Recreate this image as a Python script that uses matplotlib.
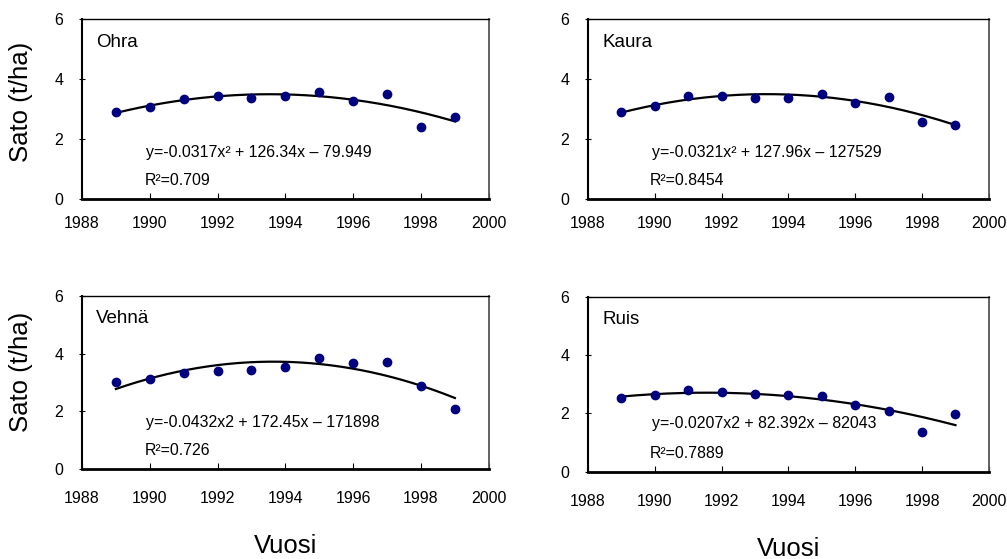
import numpy as np
import matplotlib.pyplot as plt

plt.rcParams['font.family'] = ['Liberation Sans', 'DejaVu Sans']

# Years and yields (t/ha)
years = [1989, 1990, 1991, 1992, 1993, 1994, 1995, 1996, 1997, 1998, 1999]
ohra = [2.91, 3.07, 3.33, 3.43, 3.36, 3.43, 3.56, 3.28, 3.49, 2.41, 2.74]
kaura = [2.89, 3.09, 3.44, 3.43, 3.37, 3.37, 3.50, 3.21, 3.39, 2.58, 2.47]
vehna = [3.02, 3.13, 3.33, 3.40, 3.45, 3.55, 3.84, 3.67, 3.73, 2.90, 2.09]
ruis = [2.51, 2.61, 2.79, 2.73, 2.67, 2.62, 2.58, 2.28, 2.08, 1.37, 1.97]

names = ['Ohra', 'Kaura', 'Vehnä', 'Ruis']
equations = ['y=-0.0317x² + 126.34x – 79.949',
             'y=-0.0321x² + 127.96x – 127529',
             'y=-0.0432x2 + 172.45x – 171898',
             'y=-0.0207x2 + 82.392x – 82043']
r2_texts = ['R²=0.709', 'R²=0.8454', 'R²=0.726', 'R²=0.7889']
series = [ohra, kaura, vehna, ruis]

fig = plt.figure(figsize=(10.07, 5.59), dpi=100)
positions = [[0.0814, 0.644, 0.404, 0.322],
             [0.584, 0.644, 0.398, 0.322],
             [0.0814, 0.161, 0.404, 0.309],
             [0.584, 0.1565, 0.398, 0.313]]

x = np.array(years, dtype=float)
for i, (pos, name, y) in enumerate(zip(positions, names, series)):
    ax = fig.add_axes(pos)
    y = np.array(y)
    # 2nd order trend line like in the original
    coef = np.polyfit(x - 1994, y, 2)
    xs = np.linspace(1989, 1999, 200)
    ax.plot(xs, np.polyval(coef, xs - 1994), color='black', lw=1.6, zorder=2)
    ax.scatter(x, y, s=36, color='#000080', zorder=3)

    ax.set_xlim(1988, 2000)
    ax.set_ylim(0, 6)
    ax.set_xticks(range(1988, 2001, 2))
    ax.set_yticks([0, 2, 4, 6])
    ax.tick_params(axis='x', direction='in', length=4, pad=12 if i < 2 else 16,
                   labelsize=11.5)
    ax.tick_params(axis='y', direction='inout', length=5, pad=11, labelsize=11.5)
    ax.spines['left'].set_linewidth(1.5)
    ax.spines['bottom'].set_linewidth(2)
    ax.spines['top'].set_linewidth(1.0)
    ax.spines['right'].set_linewidth(1.3)
    ax.spines['right'].set_color('#555555')

    ax.text(0.035, 0.87, name, transform=ax.transAxes, fontsize=13.5,
            va='center', ha='left')
    ax.text(1989.9, 1.55 if i < 2 else 1.63, equations[i], fontsize=11.4,
            va='center', ha='left')
    ax.text(1989.85, 0.63, r2_texts[i], fontsize=11.4, va='center', ha='left')

    if i % 2 == 0:
        ax.set_ylabel('Sato (t/ha)', fontsize=18.5)
        ax.yaxis.set_label_coords(-0.12, 0.54 if i == 0 else 0.56)
    if i >= 2:
        ax.set_xlabel('Vuosi', fontsize=18.5, labelpad=20)

fig.savefig('out.png', dpi=100)
